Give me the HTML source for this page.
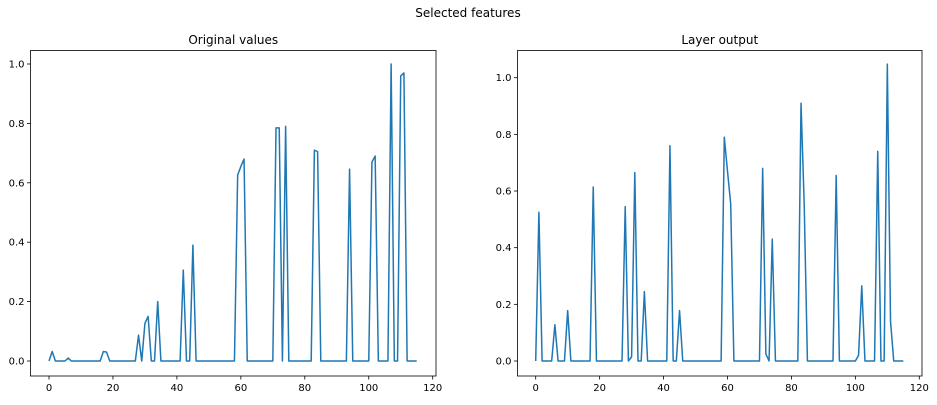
<!DOCTYPE html>
<html><head><meta charset="utf-8"><style>
body{margin:0;background:#fff;}
svg text{font-family:"DejaVu Sans","Liberation Sans",sans-serif;fill:#000;}
</style></head><body>
<svg id="fig" width="937" height="400" xmlns="http://www.w3.org/2000/svg">
<rect width="937" height="400" fill="#fff"/>
<text x="468" y="17" font-size="12" text-anchor="middle">Selected features</text>
</svg>
<script>
const xTicks=[0,20,40,60,80,100,120];
const leftYTicks=[0.0,0.2,0.4,0.6,0.8,1.0];
const rightYTicks=[0.0,0.2,0.4,0.6,0.8,1.0];
const originalValues=[0,0.032,0,0,0,0,0.01,0,0,0,0,0,0,0,0,0,0,0.032,0.03,0,0,0,0,0,0,0,0,0,0.087,0,0.127,0.15,0,0,0.2,0,0,0,0,0,0,0,0.306,0,0,0.39,0,0,0,0,0,0,0,0,0,0,0,0,0,0.626,0.655,0.68,0,0,0,0,0,0,0,0,0,0.785,0.785,0,0.79,0,0,0,0,0,0,0,0,0.71,0.705,0,0,0,0,0,0,0,0,0,0.646,0,0,0,0,0,0,0.67,0.69,0,0,0,0,1.0,0,0,0.96,0.97,0,0,0,0];
const layerOutput=[0,0.525,0,0,0,0,0.128,0,0,0,0.178,0,0,0,0,0,0,0,0.614,0,0,0,0,0,0,0,0,0,0.545,0,0.015,0.665,0,0,0.245,0,0,0,0,0,0,0,0.76,0,0,0.178,0,0,0,0,0,0,0,0,0,0,0,0,0,0.79,0.67,0.555,0,0,0,0,0,0,0,0,0,0.68,0.025,0,0.43,0,0,0,0,0,0,0,0,0.91,0.55,0,0,0,0,0,0,0,0,0,0.655,0,0,0,0,0,0,0.02,0.265,0,0,0,0,0.74,0,0,1.048,0.14,0,0,0,0];

const NS='http://www.w3.org/2000/svg';
const fig=document.getElementById('fig');
function mk(tag,attrs,parent){const e=document.createElementNS(NS,tag);for(const k in attrs)e.setAttribute(k,attrs[k]);(parent||fig).appendChild(e);return e;}

function panel(opts){
  const g=mk('g',{});
  
  
  const xs=v=>opts.x0+(v-0)*(opts.x120-opts.x0)/120;
  const ys=v=>opts.y0-v*opts.yUnit;
  const t=mk('text',{x:(opts.left+opts.right)/2,y:44,'font-size':12,'text-anchor':'middle'},g);
  t.textContent=opts.title;
  
  
  // line
  let d='';
  opts.data.forEach((v,i)=>{d+=(i?'L':'M')+xs(i).toFixed(2)+' '+ys(v).toFixed(2);});
  const p=mk('path',{d:d,fill:'none',stroke:'#1f77b4','stroke-width':1.5,'stroke-linejoin':'round'},g);
  
  
  // frame
  const r=mk('rect',{x:opts.left,y:opts.top,width:opts.right-opts.left,height:opts.bottom-opts.top,fill:'none',stroke:'#000','stroke-width':0.8},g);
  
  
  xTicks.forEach(v=>{
    const x=xs(v);
    mk('line',{x1:x,x2:x,y1:opts.bottom,y2:opts.bottom+3.5,stroke:'#000','stroke-width':0.8},g);
    const l=mk('text',{x:x,y:opts.bottom+15,'font-size':10,'text-anchor':'middle'},g);
    l.textContent=v;
    
    
  });
  opts.yTicks.forEach(v=>{
    const y=ys(v);
    mk('line',{x1:opts.left-3.5,x2:opts.left,y1:y,y2:y,stroke:'#000','stroke-width':0.8},g);
    const l=mk('text',{x:opts.left-6,y:y+3.5,'font-size':10,'text-anchor':'end'},g);
    l.textContent=v.toFixed(1);
    
    
  });
}
panel({name:'original-values-chart',title:'Original values',data:originalValues,yTicks:leftYTicks,
  left:30.5,right:436,top:50.5,bottom:376,x0:49,x120:432.7,y0:361,yUnit:297});
panel({name:'layer-output-chart',title:'Layer output',data:layerOutput,yTicks:rightYTicks,
  left:517.5,right:922,top:50.5,bottom:376,x0:535.7,x120:919.3,y0:361,yUnit:283.3});
</script>
</body></html>
